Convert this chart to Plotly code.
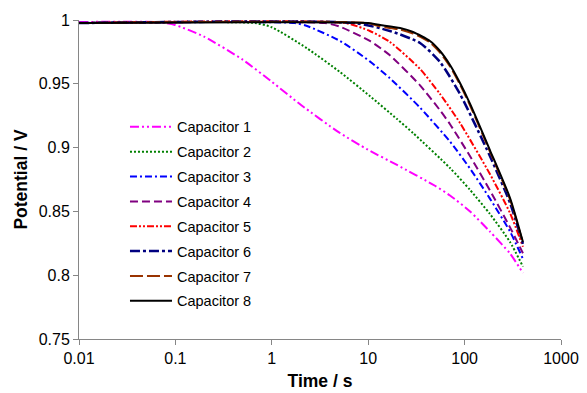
import plotly.graph_objects as go

# ---- data ----
names = ["Capacitor 1", "Capacitor 2", "Capacitor 3", "Capacitor 4",
         "Capacitor 5", "Capacitor 6", "Capacitor 7", "Capacitor 8"]

t1 = [0.01, 0.064, 0.099, 0.198, 0.503, 1.0, 2.01, 4.98, 9.95, 19.9, 49.3, 70.6, 114, 183, 296, 403]
v1 = [0.9984, 0.9984, 0.9961, 0.9870, 0.9687, 0.9516, 0.9334, 0.9119, 0.8983, 0.8864, 0.8701, 0.8625, 0.8499, 0.8342, 0.8170, 0.8017]

t2 = [0.01, 0.67, 1.0, 2.32, 5.1, 10.4, 19.9, 29.2, 70.6, 114, 183, 296, 403]
v2 = [0.9976, 0.9976, 0.9943, 0.9778, 0.9592, 0.9404, 0.9224, 0.9114, 0.8840, 0.8668, 0.8480, 0.8260, 0.8067]

t3 = [0.01, 1.74, 2.32, 5.1, 10.4, 16.8, 34.5, 70.6, 114, 183, 296, 403]
v3 = [0.9976, 0.9976, 0.9953, 0.9836, 0.9676, 0.9543, 0.9313, 0.9047, 0.8835, 0.8600, 0.8342, 0.8128]

t4 = [0.01, 3.56, 5.1, 10.4, 16.8, 34.5, 55.6, 70.6, 114, 183, 296, 403]
v4 = [0.9976, 0.9976, 0.9947, 0.9836, 0.9723, 0.9488, 0.9292, 0.9183, 0.8932, 0.8665, 0.8375, 0.8172]

t5 = [0.01, 5.74, 10.4, 16.8, 34.5, 55.6, 89.6, 183, 296, 403]
v5 = [0.9976, 0.9976, 0.9914, 0.9828, 0.9616, 0.9420, 0.9193, 0.8793, 0.8487, 0.8223]

t6 = [0.01, 7.29, 16.8, 34.5, 55.6, 89.6, 183, 296, 403]
v6 = [0.9976, 0.9976, 0.9914, 0.9820, 0.9671, 0.9420, 0.8934, 0.8566, 0.8245]

t7 = [0.01, 9.95, 13.3, 21.4, 29.2, 43.7, 55.6, 70.6, 89.6, 114, 183, 296, 403]
v7 = [0.9976, 0.9976, 0.9949, 0.9926, 0.9894, 0.9824, 0.9745, 0.9636, 0.9495, 0.9330, 0.8969, 0.8593, 0.8252]

t8 = [0.01, 9.95, 13.3, 21.4, 29.2, 43.7, 55.6, 70.6, 89.6, 114, 183, 296, 403]
v8 = [0.9976, 0.9976, 0.9961, 0.9937, 0.9906, 0.9835, 0.9757, 0.9647, 0.9506, 0.9342, 0.8981, 0.8605, 0.8260]

x_tickvals = [0.01, 0.1, 1, 10, 100, 1000]
x_ticktext = ["0.01", "0.1", "1", "10", "100", "1000"]
y_tickvals = [0.75, 0.8, 0.85, 0.9, 0.95, 1.0]
y_ticktext = ["0.75", "0.8", "0.85", "0.9", "0.95", "1"]

# ---- styles ----
times = [t1, t2, t3, t4, t5, t6, t7, t8]
values = [v1, v2, v3, v4, v5, v6, v7, v8]
colors = ["#FF00FF", "#008000", "#0000FF", "#800080",
          "#FF0000", "#000080", "#993300", "#000000"]
dashes = ["9px,3px,2px,3px,2px,3px", "2px,2px", "7px,3px,2px,3px", "8px,4px",
          "7px,2px,2px,2px,2px,2px", "10px,3px,3px,3px", "13px,4px", "solid"]
widths = [2, 2, 2, 2, 2, 2.5, 2, 2]

fig = go.Figure()
for i in range(8):
    fig.add_trace(go.Scatter(
        x=times[i], y=values[i], name=names[i], mode="lines",
        line=dict(color=colors[i], dash=dashes[i], width=widths[i],
                  shape="spline", smoothing=0.6),
        legendgroup=names[i],
    ))

font_family = "Arial, Liberation Sans, sans-serif"

fig.update_layout(
    width=587, height=393,
    margin=dict(l=79, r=26, t=20, b=54, autoexpand=False),
    paper_bgcolor="white", plot_bgcolor="white",
    font=dict(family=font_family, color="black"),
    showlegend=True,
    legend=dict(x=0.0954, y=0.715, xanchor="left", yanchor="top",
                font=dict(size=14.5, family=font_family, color="black"),
                bgcolor="rgba(0,0,0,0)", tracegroupgap=3,
                itemwidth=42, traceorder="grouped"),
    xaxis=dict(type="log", range=[-2, 3], automargin=False,
               tickvals=x_tickvals, ticktext=x_ticktext,
               showgrid=False, zeroline=False,
               showline=True, linecolor="#868686", linewidth=1,
               ticks="outside", ticklen=5, tickcolor="#868686",
               tickfont=dict(size=16, family=font_family),
               title=dict(text="<b>Time / s</b>", standoff=8,
                          font=dict(size=17.5, family=font_family))),
    yaxis=dict(range=[0.75, 1.0], automargin=False,
               tickvals=y_tickvals, ticktext=y_ticktext,
               showgrid=False, zeroline=False,
               showline=True, linecolor="#868686", linewidth=1,
               ticks="outside", ticklen=5, tickcolor="#868686",
               tickfont=dict(size=16, family=font_family),
               title=dict(text="<b>Potential / V</b>", standoff=6,
                          font=dict(size=17.5, family=font_family))),
)

fig.write_html("out.html",
               config={"displayModeBar": False},
               post_script="document.body.style.margin='0';document.body.style.padding='0';")
